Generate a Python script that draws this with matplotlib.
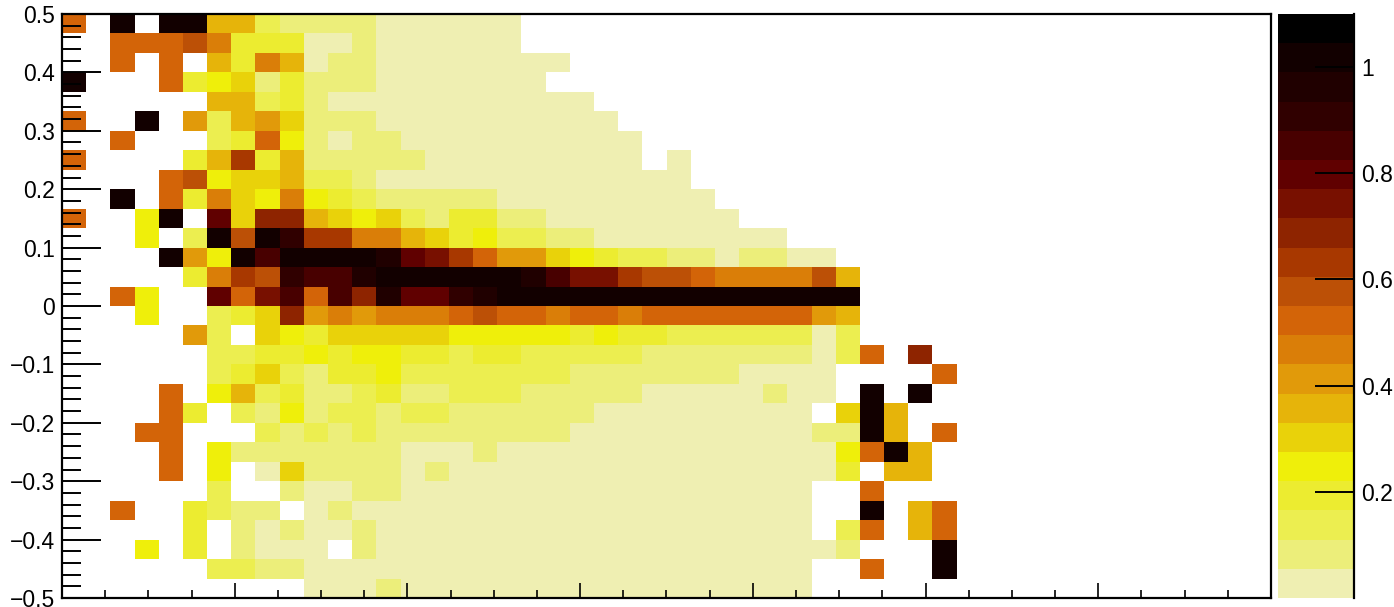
import numpy as np
import matplotlib
matplotlib.use("Agg")
import matplotlib.pyplot as plt
from matplotlib.colors import BoundaryNorm, ListedColormap
from matplotlib.ticker import FixedLocator, FuncFormatter

plt.rcParams['font.family'] = ['Liberation Sans', 'DejaVu Sans']

WIDTH, HEIGHT = 1394, 607
N_COLS = 50

# bin contents in percent, top row first, 0 = empty bin
row_00 = [52, 0, 100, 0, 100, 100, 36, 36, 14, 8, 8, 8, 8] + [3] * 6
row_01 = [0, 0, 52, 52, 52, 58, 47, 19, 19, 19, 3, 3, 8] + [3] * 6
row_02 = [0, 0, 52, 0, 52, 0, 36, 19, 47, 36, 3, 8, 8] + [3] * 8
row_03 = [100, 0, 0, 0, 52, 19, 25, 30, 8, 19, 8, 8, 8] + [3] * 7
row_04 = [0, 0, 0, 0, 0, 0, 36, 36, 14, 19, 8] + [3] * 11
row_05 = [52, 0, 0, 100, 0, 41, 14, 36, 41, 30, 8, 8, 8] + [3] * 10
row_06 = [0, 0, 52, 0, 0, 0, 14, 19, 52, 25, 8, 3, 8, 8] + [3] * 10
row_07 = [52, 0, 0, 0, 0, 19, 36, 63, 19, 36, 8, 8, 8, 8, 8] + [3] * 9 + [0, 3]
row_08 = [0, 0, 0, 0, 52, 58, 25, 30, 30, 36, 14, 14, 8] + [3] * 13
row_09 = [0, 0, 100, 0, 52, 19, 47, 30, 25, 47, 25, 19, 14, 8, 8, 8, 8, 8] + [3] * 9
row_10 = [52, 0, 0, 25, 100, 0, 80, 30, 69, 69, 36, 30, 25, 30, 14, 8, 19, 19, 8, 8] + [3] * 8
row_11 = [0, 0, 0, 25, 0, 14, 100, 58, 100, 91, 63, 63, 47, 47, 36, 30, 19, 25, 14, 14, 8, 8] + [3] * 8
row_12 = [0, 0, 0, 0, 100, 41, 25, 100, 85, 100, 100, 100, 100, 96, 80, 74, 63, 52, 41, 41,
          30, 25, 19, 14, 14, 8, 8, 3, 8, 8, 3, 3]
row_13 = [0, 0, 0, 0, 0, 19, 47, 63, 58, 91, 85, 85, 96, 100, 100, 100, 100, 100, 100, 96,
          85, 74, 74, 63, 58, 58, 52, 47, 47, 47, 47, 58, 36]
row_14 = [0, 0, 52, 25, 0, 0, 80, 52, 74, 85, 52, 85, 69, 96, 80, 80, 91, 96] + [100] * 15
row_15 = [0, 0, 0, 25, 0, 0, 14, 19, 30, 69, 41, 47, 41, 47, 47, 47, 52, 58, 52, 52, 47, 52, 52, 47] + [52] * 7 + [41, 36]
row_16 = [0, 0, 0, 0, 0, 41, 14, 0, 30, 25, 19, 30, 30, 30, 30, 30, 25, 25, 25, 25, 25, 19, 25, 19, 19] + [14] * 6 + [3, 14]
row_17 = [0, 0, 0, 0, 0, 0, 14, 14, 19, 19, 25, 19, 25, 25, 19, 19, 14, 19, 19, 14, 14, 14, 14, 14] + [8] * 7 + [3, 14, 52, 0, 69]
row_18 = [0, 0, 0, 0, 0, 0, 14, 19, 30, 14, 8, 19, 19, 25, 14, 14, 14, 14, 14, 14, 14] + [8] * 7 + [3] * 4 + [0, 0, 0, 0, 52]
row_19 = [0, 0, 0, 0, 52, 0, 25, 36, 14, 19, 8, 8, 14, 19, 8, 8, 14, 14, 14] + [8] * 5 + [3] * 5 + [8, 3, 3, 0, 100, 0, 100]
row_20 = [0, 0, 0, 0, 52, 19, 0, 14, 8, 25, 8, 14, 14, 8, 14, 14] + [8] * 6 + [3] * 9 + [0, 30, 100, 36]
row_21 = [0, 0, 0, 52, 52, 0, 0, 0, 14, 8, 14, 8, 14, 8, 8, 8] + [8] * 5 + [3] * 10 + [8, 8, 100, 36, 0, 52]
row_22 = [0, 0, 0, 0, 52, 0, 25] + [8] * 7 + [3, 3, 3, 8] + [3] * 14 + [25, 52, 100, 36]
row_23 = [0, 0, 0, 0, 52, 0, 25, 0, 3, 30, 8, 8, 8, 8, 3, 8] + [3] * 16 + [19, 0, 36, 36]
row_24 = [0, 0, 0, 0, 0, 0, 14, 0, 0, 8, 3, 3, 8, 8] + [3] * 17 + [0, 0, 52]
row_25 = [0, 0, 52, 0, 0, 19, 14, 8, 8, 0, 3, 8] + [3] * 19 + [0, 0, 100, 0, 36, 52]
row_26 = [0, 0, 0, 0, 0, 19, 0, 8, 3, 8, 3, 3, 8] + [3] * 18 + [0, 14, 52, 0, 36, 52]
row_27 = [0, 0, 0, 25, 0, 19, 0, 8, 3, 3, 3, 0, 8] + [3] * 19 + [8, 0, 0, 0, 100]
row_28 = [0, 0, 0, 0, 0, 0, 14, 14, 8, 8] + [3] * 21 + [0, 0, 52, 0, 0, 100]
row_29 = [0] * 10 + [3, 3, 3, 8] + [3] * 17

rows = [row_00, row_01, row_02, row_03, row_04, row_05, row_06, row_07, row_08, row_09,
        row_10, row_11, row_12, row_13, row_14, row_15, row_16, row_17, row_18, row_19,
        row_20, row_21, row_22, row_23, row_24, row_25, row_26, row_27, row_28, row_29]

# palette bottom to top, one colour per contour level
palette = ["#efefb2", "#ecee7a", "#ecee50", "#ecec30", "#efef0a", "#e9d20a", "#e6b40a",
           "#e19a0a", "#da7e08", "#d36408", "#bc5006", "#a83800", "#8e2400", "#781000",
           "#600000", "#480000", "#300000", "#200000", "#120000", "#000000"]
z_max = 1.1
y_ticks = [-0.5, -0.4, -0.3, -0.2, -0.1, 0, 0.1, 0.2, 0.3, 0.4, 0.5]
y_labels = ["\u22120.5", "\u22120.4", "\u22120.3", "\u22120.2", "\u22120.1", "0", "0.1", "0.2", "0.3", "0.4", "0.5"]
cbar_ticks = [0.2, 0.4, 0.6, 0.8, 1.0]
cbar_labels = ["0.2", "0.4", "0.6", "0.8", "1"]


def pad_rows(rows):
    # rows stop at the last filled bin, fill up to the full axis
    grid = np.zeros((len(rows), N_COLS))
    for i, row in enumerate(rows):
        grid[i, :len(row)] = row
    return grid / 100.0


def px_axes(fig, left, top, right, bottom):
    return fig.add_axes([left / WIDTH, 1 - bottom / HEIGHT, (right - left) / WIDTH, (bottom - top) / HEIGHT])


def draw_hist(ax, grid, cmap, norm):
    x_edges = np.linspace(0, 7, N_COLS + 1)
    y_edges = np.linspace(-0.5, 0.5, len(rows) + 1)
    masked = np.ma.masked_equal(grid[::-1], 0)
    ax.pcolormesh(x_edges, y_edges, masked, cmap=cmap, norm=norm)
    ax.set_xlim(0, 7)
    ax.set_ylim(-0.5, 0.5)

    ax.set_yticks(y_ticks)
    ax.set_yticklabels(y_labels)
    ax.yaxis.set_minor_locator(FixedLocator(np.arange(-50, 51, 2) / 100))
    ax.tick_params(axis='y', which='major', direction='in', length=28, width=1.4, labelsize=16.5, pad=5)
    ax.tick_params(axis='y', which='minor', direction='in', length=14, width=1.4)

    ax.set_xticks(np.arange(0, 8))
    ax.set_xticklabels([])
    ax.xaxis.set_minor_locator(FixedLocator(np.arange(0, 29) / 4))
    ax.tick_params(axis='x', which='major', direction='in', length=11, width=1.2)
    ax.tick_params(axis='x', which='minor', direction='in', length=5.5, width=1.2)

    for side in ax.spines.values():
        side.set_linewidth(1.6)
        side.set_zorder(5)


def draw_colorbar(ax, cmap, norm):
    levels = np.linspace(0, z_max, len(palette) + 1)
    ax.pcolormesh([0, 1], levels, np.array(levels[:-1] + 0.001).reshape(-1, 1), cmap=cmap, norm=norm)
    ax.set_xlim(0, 1)
    ax.set_ylim(0, z_max)
    ax.set_xticks([])
    ax.yaxis.tick_right()
    ax.set_yticks(cbar_ticks)
    ax.yaxis.set_major_formatter(FuncFormatter(lambda v, p: cbar_labels[p] if p is not None else ""))
    ax.tick_params(axis='y', direction='in', length=28, width=1.4, labelsize=16.5, pad=5)
    for name in ("left", "top", "bottom"):
        ax.spines[name].set_visible(False)
    ax.spines["right"].set_linewidth(1.6)


def entry():
    grid = pad_rows(rows)
    cmap = ListedColormap(palette)
    norm = BoundaryNorm(np.linspace(0, z_max, len(palette) + 1), cmap.N)

    fig = plt.figure(figsize=(WIDTH / 100, HEIGHT / 100), dpi=100)
    draw_hist(px_axes(fig, 62, 14, 1271, 598), grid, cmap, norm)
    draw_colorbar(px_axes(fig, 1278, 14, 1354, 598), cmap, norm)
    fig.savefig("out.png", dpi=100)


if __name__ == '__main__':
    entry()
